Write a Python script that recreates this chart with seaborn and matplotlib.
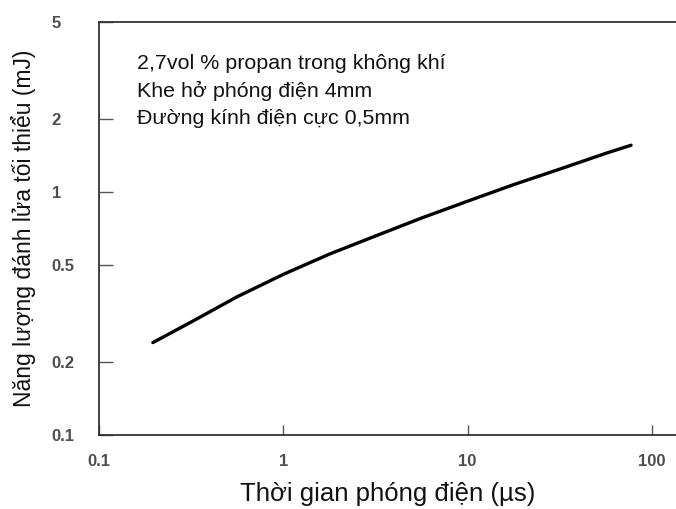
import matplotlib
matplotlib.use("Agg")
import matplotlib.pyplot as plt
import seaborn as sns
import pandas as pd
from matplotlib.ticker import FixedLocator, FixedFormatter, NullLocator
from matplotlib.font_manager import FontProperties

# Data
time_us = [0.196, 0.32, 0.56, 1.0, 1.78, 3.2, 5.6, 10.0, 17.8, 32.0, 56.0, 77.0]
energy_mj = [0.24, 0.293, 0.37, 0.458, 0.555, 0.661, 0.78, 0.916, 1.072, 1.245, 1.44, 1.556]
x_ticks = [0.1, 1, 10, 100]
x_tick_labels = ["0.1", "1", "10", "100"]
y_ticks = [0.1, 0.2, 0.5, 1, 2, 5]
y_tick_labels = ["0.1", "0.2", "0.5", "1", "2", "5"]
annotation_lines = [
    "2,7vol % propan trong không khí",
    "Khe hở phóng điện 4mm",
    "Đường kính điện cực 0,5mm",
]
x_label = "Thời gian phóng điện (µs)"
y_label = "Năng lượng đánh lửa tối thiểu (mJ)"

sns.set_theme(style="white")
plt.rcParams["font.family"] = ["Liberation Sans", "DejaVu Sans"]

df = pd.DataFrame({"t": time_us, "e": energy_mj})

fig = plt.figure(figsize=(6.76, 5.09), dpi=100)
ax = fig.add_axes([99 / 676, 74 / 509, 1 - 99 / 676, (435 - 22) / 509])

sns.lineplot(data=df, x="t", y="e", ax=ax, color="black", linewidth=2.4, sort=True)
for ln in ax.lines:
    ln.set_solid_capstyle("round")

ax.set_xscale("log")
ax.set_yscale("log")
ax.set_xlim(0.1, 135)
ax.set_ylim(0.1, 5)

ax.xaxis.set_major_locator(FixedLocator(x_ticks))
ax.xaxis.set_major_formatter(FixedFormatter(x_tick_labels))
ax.yaxis.set_major_locator(FixedLocator(y_ticks))
ax.yaxis.set_major_formatter(FixedFormatter(y_tick_labels))
ax.xaxis.set_minor_locator(NullLocator())
ax.yaxis.set_minor_locator(NullLocator())

for s in ["left", "bottom", "top"]:
    ax.spines[s].set_color("#333333")
    ax.spines[s].set_linewidth(1.3)
ax.spines["right"].set_visible(False)

tick_fp = FontProperties(family=["Liberation Sans", "DejaVu Sans"], weight="bold", size=12)
ax.tick_params(axis="y", direction="in", length=10, width=1, color="#555555",
               pad=34, labelcolor="#4d4d4d", left=True)
ax.tick_params(axis="x", direction="in", length=7, width=1, color="#555555",
               pad=14, labelcolor="#4d4d4d", bottom=True)
for lab in ax.get_yticklabels():
    lab.set_horizontalalignment("left")
    lab.set_fontproperties(tick_fp)
for lab in ax.get_xticklabels():
    lab.set_fontproperties(tick_fp)

ax.set_xlabel(x_label, fontsize=18.5, color="#111111", labelpad=9)
ax.set_ylabel(y_label, fontsize=16.5, color="#111111", labelpad=11)

ax.text(0.066, 0.922, "\n".join(annotation_lines), transform=ax.transAxes,
        va="top", ha="left", fontsize=15.4, color="#111111", linespacing=1.5)

fig.savefig("out.png", dpi=100)
